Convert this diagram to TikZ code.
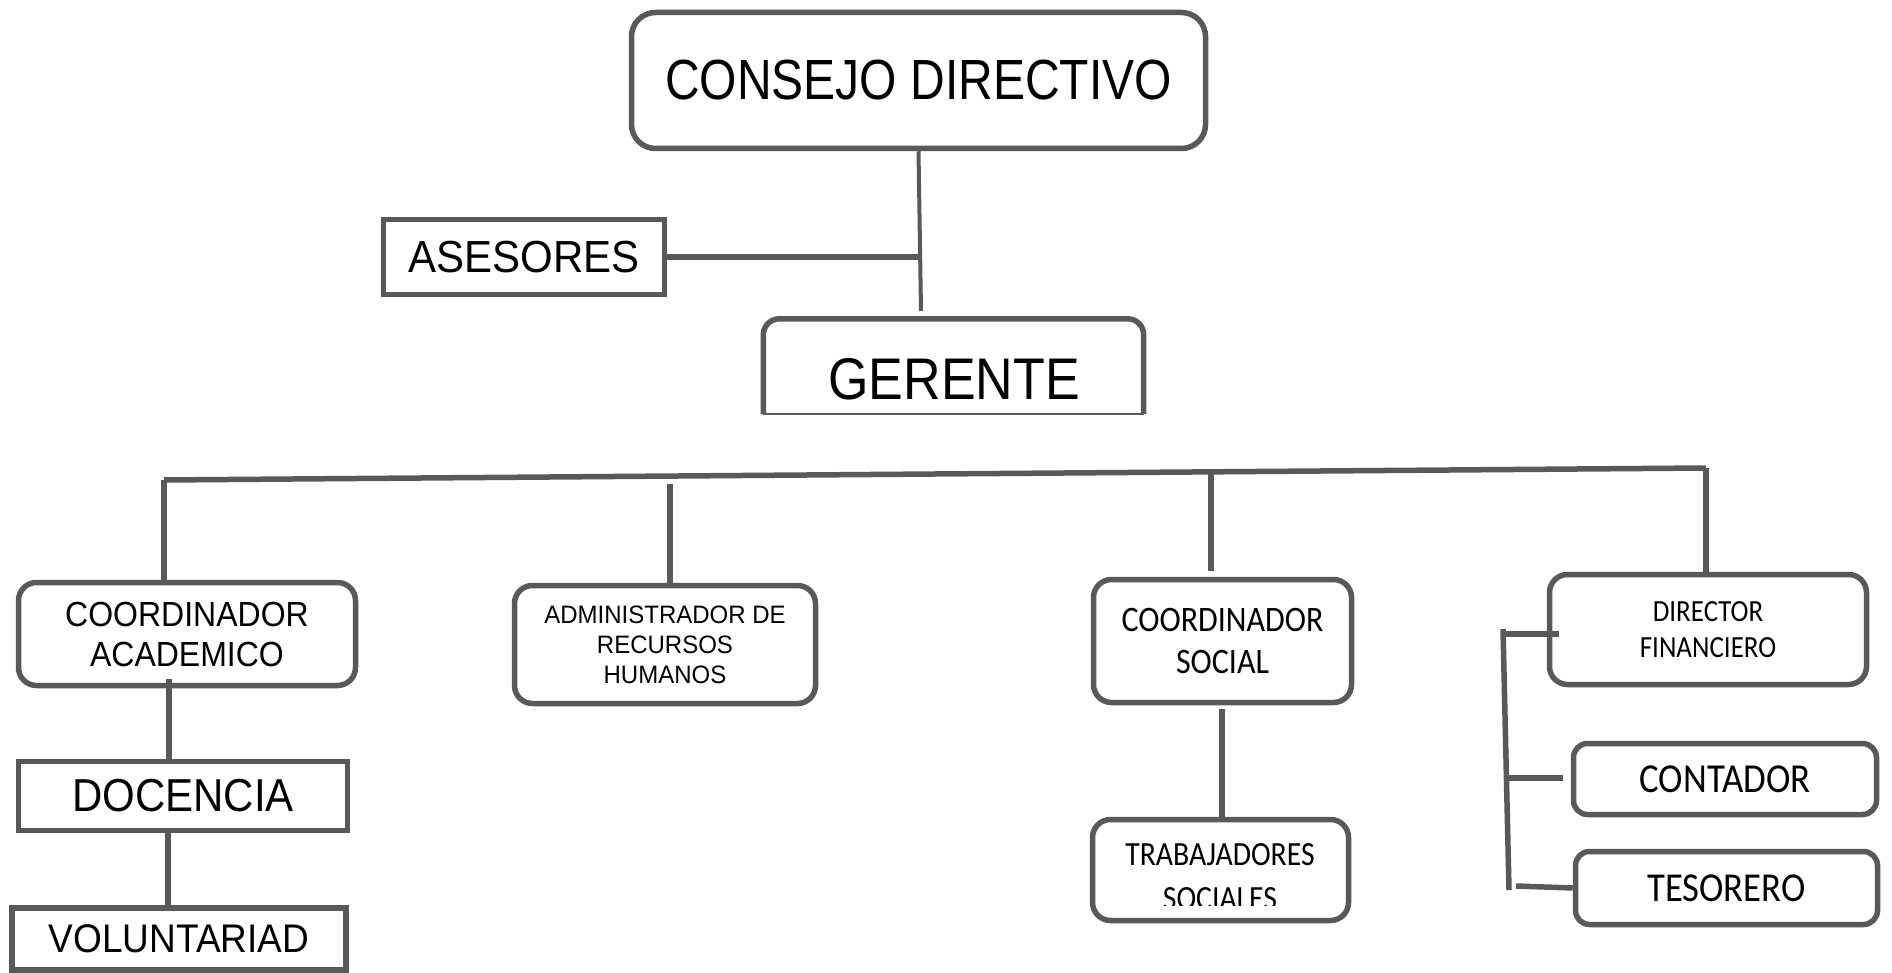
\documentclass[tikz,border=0pt]{standalone}
\usepackage{fontspec}
\setmainfont{Liberation Sans}
\newfontfamily\carl{Carlito}
\usepackage{graphicx}
\newcommand{\vs}[2][1.12]{\scalebox{1}[#1]{#2}}
\definecolor{lc}{HTML}{595959}
\begin{document}
\begin{tikzpicture}[x=1pt,y=-1pt,
  box/.style={draw=lc, line width=5.5pt, rounded corners=18pt, inner sep=0pt, align=center, text=black},
  sbox/.style={box, rounded corners=0pt},
  conn/.style={draw=lc, line width=5.5pt},
  lbl/.style={inner sep=0pt, align=center, text=black}]
\useasboundingbox (0,0) rectangle (1892,973);

% boxes
\node[box, rounded corners=24pt, minimum width=574pt, minimum height=136pt, font=\fontsize{48}{56}\selectfont] (cons) at (918.5,80.5) {\vs[1.18]{CONSEJO DIRECTIVO}};
\node[sbox, minimum width=281pt, minimum height=75pt, font=\fontsize{42}{50}\selectfont] (ases) at (524,257) {\vs[1.07]{ASESORES}};
\node[inner sep=0pt, minimum width=380pt, minimum height=95pt] (ger) at (953.5,366.5) {};
\draw[lc, line width=5.5pt, rounded corners=16pt] (ger.south west) -- (ger.north west) -- (ger.north east) -- (ger.south east);
\draw[lc, line width=2pt] (ger.south west) -- (ger.south east);
\node[lbl, font=\fontsize{52}{60}\selectfont] (gert) at (954,379.5) {\vs[1.13]{GERENTE}};

\node[box, minimum width=337pt, minimum height=103pt, font=\fontsize{32}{40}\selectfont] (ca) at (187,634) {\vs[1.09]{COORDINADOR}\\\vs[1.09]{ACADEMICO}};
\node[box, minimum width=301pt, minimum height=118pt, font=\fontsize{24}{30}\selectfont] (adm) at (665,644.5) {\vs[1.05]{ADMINISTRADOR DE}\\\vs[1.05]{RECURSOS}\\\vs[1.05]{HUMANOS}};
\node[box, minimum width=258pt, minimum height=123pt, font=\carl\fontsize{32}{42}\selectfont] (cs) at (1222.5,641) {\vs[1.12]{COORDINADOR}\\\vs[1.12]{SOCIAL}};
\node[box, minimum width=317pt, minimum height=110pt, font=\carl\fontsize{27}{36.5}\selectfont] (df) at (1708,629.5) {\vs[1.14]{DIRECTOR}\\\vs[1.14]{FINANCIERO}};
\node[sbox, minimum width=329pt, minimum height=69pt, font=\fontsize{42}{50}\selectfont] (doc) at (183,796) {\vs[1.1]{DOCENCIA}};
\node[sbox, minimum width=334pt, minimum height=62pt, font=\fontsize{37}{44}\selectfont] (vol) at (179,939) {\vs[1.08]{VOLUNTARIAD}};
\node[box, minimum width=256pt, minimum height=101pt] (ts) at (1220.5,870) {};
\node[lbl, font=\carl\fontsize{29.7}{36}\selectfont] (tsa) at (1220,855) {\vs[1.14]{TRABAJADORES}};
\begin{scope}
  \clip (1100,875) rectangle (1340,905);
  \node[lbl, font=\carl\fontsize{29.7}{36}\selectfont] (tsb) at (1220,899) {\vs[1.14]{SOCIALES}};
\end{scope}
\node[box, rounded corners=14pt, minimum width=303pt, minimum height=71pt, font=\carl\fontsize{36.8}{44}\selectfont] (cont) at (1725,779) {\vs[1.12]{CONTADOR}};
\node[box, rounded corners=14pt, minimum width=302pt, minimum height=73pt, font=\carl\fontsize{36.7}{44}\selectfont] (tes) at (1726.5,888) {\vs[1.12]{TESORERO}};

% connectors
\coordinate (j1) at (921,311);
\draw[conn, line width=4pt] (cons.south) -- (j1);
\coordinate (j2) at (919,257);
\draw[conn] (ases.east) -- (j2);

\coordinate (bL) at (164,480);
\coordinate (bR) at (1706,468);
\draw[conn] (bL) -- (bR);
\draw[conn] (bL) -- (bL |- ca.north);
\coordinate (d2) at (670,484);
\draw[conn] (d2) -- (d2 |- adm.north);
\coordinate (d3) at (1211,471);
\coordinate (d3e) at (1211,571);
\draw[conn] (d3) -- (d3e);
\draw[conn] (bR) -- (bR |- df.north);

\coordinate (c1) at (169,679);
\draw[conn] (c1) -- (c1 |- doc.north);
\coordinate (c2) at (168,833);
\draw[conn] (c2) -- (c2 |- vol.north);
\coordinate (c3) at (1222,709);
\draw[conn] (c3) -- (c3 |- ts.north);

\coordinate (f1) at (1503,629);
\coordinate (f2) at (1509,890);
\draw[conn] (f1) -- (f2);
\coordinate (t1a) at (1503,634);
\coordinate (t1b) at (1559,634);
\draw[conn] (t1a) -- (t1b);
\coordinate (t2a) at (1509,778);
\coordinate (t2b) at (1563,778);
\draw[conn] (t2a) -- (t2b);
\coordinate (t3a) at (1516,886);
\draw[conn] (t3a) -- (tes.west);
\end{tikzpicture}
\end{document}
